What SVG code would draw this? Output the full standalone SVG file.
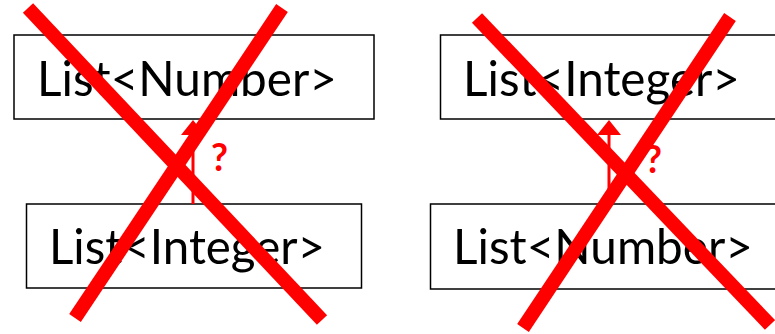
<svg xmlns="http://www.w3.org/2000/svg" width="775" height="334" viewBox="0 0 775 334">
  <style>
    .box { fill: #ffffff; stroke: #000000; stroke-width: 1.5; }
    .label { font-family: Lato, "Liberation Sans", Arial, sans-serif; font-size: 49px; fill: #000000; }
    .edge { stroke: #ff0000; stroke-width: 3; fill: none; }
    .head { fill: #ff0000; }
    .q { font-family: Lato, "Liberation Sans", Arial, sans-serif; font-size: 38px; font-weight: bold; fill: #ff0000; }
    .cross { stroke: #ff0000; stroke-width: 14; stroke-linecap: butt; }
  </style>
  <rect width="775" height="334" fill="#ffffff"/>

  <!-- left pair -->
  <g id="left-number">
    <rect class="box" x="14" y="35" width="360" height="84"/>
    <text class="label" x="37" y="96" textLength="300" lengthAdjust="spacingAndGlyphs">List&lt;Number&gt;</text>
  </g>
  <g id="left-integer">
    <rect class="box" x="26.5" y="204" width="335" height="84"/>
    <text class="label" x="49" y="264" textLength="276" lengthAdjust="spacingAndGlyphs">List&lt;Integer&gt;</text>
  </g>

  <!-- right pair -->
  <g id="right-integer">
    <rect class="box" x="440.5" y="35" width="340" height="84"/>
    <text class="label" x="463" y="96" textLength="277" lengthAdjust="spacingAndGlyphs">List&lt;Integer&gt;</text>
  </g>
  <g id="right-number">
    <rect class="box" x="430.5" y="204" width="350" height="85"/>
    <text class="label" x="453" y="264" textLength="300" lengthAdjust="spacingAndGlyphs">List&lt;Number&gt;</text>
  </g>

  <!-- connectors -->
  <g id="connectors">
    <line class="edge" x1="193" y1="204" x2="193" y2="133"/>
    <polygon class="head" points="193,120 181,135 205,135"/>
    <text class="q" x="211" y="171" textLength="17" lengthAdjust="spacingAndGlyphs">?</text>

    <line class="edge" x1="609" y1="190" x2="609" y2="133"/>
    <polygon class="head" points="609,120 597,135 621,135"/>
    <text class="q" x="645" y="173" textLength="17" lengthAdjust="spacingAndGlyphs">?</text>
  </g>

  <!-- crossing-out strokes -->
  <g id="cross-left">
    <line class="cross" x1="28" y1="8" x2="322" y2="320"/>
    <line class="cross" x1="282" y1="8" x2="75" y2="318"/>
  </g>
  <g id="cross-right">
    <line class="cross" x1="477" y1="18" x2="770" y2="325"/>
    <line class="cross" x1="730" y1="17" x2="523" y2="328"/>
  </g>
</svg>
